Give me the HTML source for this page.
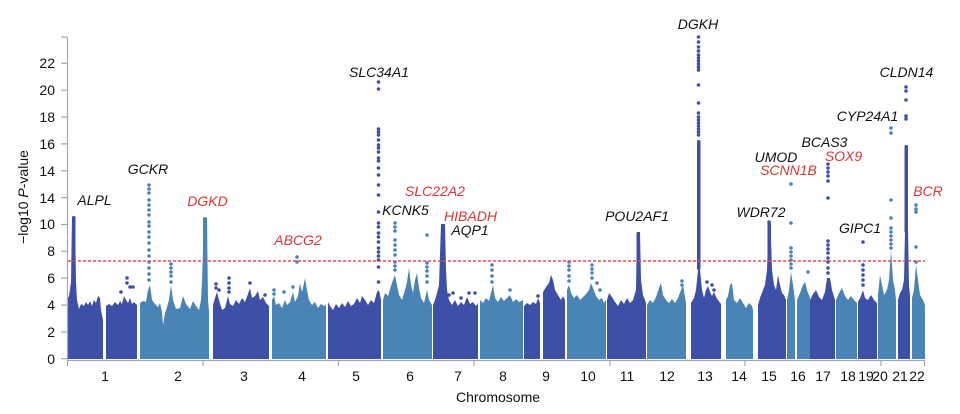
<!DOCTYPE html>
<html><head><meta charset="utf-8"><style>
html,body{margin:0;padding:0;background:#fff;}
svg{display:block;}
text{font-family:"Liberation Sans",Arial,sans-serif;}
.g{font-style:italic;font-size:14px;fill:#111;}
.r{fill:#dd3535;}
.t{font-size:14px;fill:#111;}
</style></head><body>
<svg width="960" height="414" viewBox="0 0 960 414" xmlns="http://www.w3.org/2000/svg">
<rect width="960" height="414" fill="#fff"/>
<g fill="#3d4fa6">
<polygon points="67,359 67,300 69,296 71,282 72,217 75,217 76,282 77,300 79,309 81,304 84,306 86,302 88,305 90,301 92,306 94,300 96,303 98,296 100,298 101,310 103,320 103,359"/>
<polygon points="106,359 106,306 109,304 112,306 115,302 118,305 120,301 122,304 124,296 126,300 128,303 130,298 132,304 134,302 137,305 137,359"/>
<polygon points="213,359 213,305 215,298 217,292 219,300 222,310 225,308 228,296 230,304 233,306 236,300 239,304 242,298 245,302 248,294 250,288 252,298 255,296 258,291 260,300 263,297 266,303 269,306 269,359"/>
<polygon points="328,359 328,302 330,306 333,310 336,304 339,308 342,303 345,307 348,301 351,306 354,304 357,298 360,303 362,296 365,300 368,305 371,300 374,303 377,292 379,290 381,300 381,359"/>
<polygon points="433,359 433,305 435,300 437,293 439,285 441,224 445,224 446,270 447,290 449,300 452,305 455,300 458,306 461,302 464,305 467,297 470,304 473,302 476,306 478,303 478,359"/>
<polygon points="524,359 524,306 527,303 530,305 533,302 536,304 538,298 540,303 540,359"/>
<polygon points="543,359 543,292 546,287 549,283 551,275 553,280 555,290 558,295 561,300 563,296 565,300 565,359"/>
<polygon points="607,359 607,300 609,293 612,297 615,302 618,306 621,300 624,304 627,298 630,303 633,300 636,290 637,232 640,232 641,280 643,295 646,303 646,359"/>
<polygon points="691,359 691,303 694,298 696,290 698,270 700,270 702,290 704,298 706,290 708,286 710,292 712,296 714,292 716,297 718,300 721,304 721,359"/>
<polygon points="758,359 758,305 760,298 763,290 765,285 767,270 768,240 771,240 772,270 774,285 776,290 778,275 780,285 782,293 784,295 786,300 786,359"/>
<polygon points="810,359 810,300 813,294 816,290 819,297 822,300 825,292 827,278 830,278 832,290 835,300 835,359"/>
<polygon points="858,359 858,302 861,296 863,290 865,298 868,300 871,295 874,300 877,303 877,359"/>
<polygon points="898,359 898,300 900,293 902,290 904,280 905,230 908,230 909,285 910,295 910,359"/>
<!-- dense dark columns -->
<rect x="72" y="216" width="3.5" height="60" rx="1.5"/>
<rect x="697" y="140" width="3.5" height="130" rx="1.5"/>
<rect x="767.5" y="222" width="3.5" height="40" rx="1.5"/>
<rect x="904.5" y="145" width="3.5" height="88" rx="1.5"/>
<rect x="636.5" y="232" width="3.5" height="40" rx="1.5"/>
<rect x="441" y="224" width="3.5" height="40" rx="1.5"/>
<!-- dark dots -->
<circle cx="127" cy="278" r="1.8"/><circle cx="127" cy="283" r="1.8"/><circle cx="130" cy="287" r="1.8"/><circle cx="133" cy="287" r="1.8"/><circle cx="121" cy="292" r="1.8"/>
<circle cx="216" cy="288" r="1.8"/><circle cx="216" cy="284" r="1.8"/><circle cx="219" cy="290" r="1.8"/><circle cx="229" cy="278" r="1.8"/><circle cx="229" cy="283" r="1.8"/><circle cx="229" cy="288" r="1.8"/><circle cx="229" cy="292" r="1.8"/><circle cx="250" cy="283" r="1.8"/><circle cx="265" cy="295" r="1.8"/>
<circle cx="378.5" cy="82" r="1.8"/><circle cx="378.5" cy="89" r="1.8"/><circle cx="378.5" cy="129" r="1.8"/><circle cx="378.5" cy="132" r="1.8"/><circle cx="378.5" cy="135" r="1.8"/><circle cx="378.5" cy="140" r="1.8"/><circle cx="378.5" cy="145" r="1.8"/><circle cx="378.5" cy="148" r="1.8"/><circle cx="378.5" cy="152" r="1.8"/><circle cx="378.5" cy="158" r="1.8"/><circle cx="378.5" cy="161" r="1.8"/><circle cx="378.5" cy="168" r="1.8"/><circle cx="378.5" cy="175" r="1.8"/><circle cx="378.5" cy="185" r="1.8"/><circle cx="378.5" cy="195" r="1.8"/><circle cx="378.5" cy="212" r="1.8"/><circle cx="378.5" cy="223" r="1.8"/><circle cx="378.5" cy="227" r="1.8"/><circle cx="378.5" cy="233" r="1.8"/><circle cx="378.5" cy="237" r="1.8"/><circle cx="378.5" cy="242" r="1.8"/><circle cx="378.5" cy="248" r="1.8"/><circle cx="378.5" cy="252" r="1.8"/><circle cx="378.5" cy="256" r="1.8"/><circle cx="378.5" cy="260" r="1.8"/><circle cx="378.5" cy="267" r="1.8"/><circle cx="378.5" cy="282" r="1.8"/>
<circle cx="449" cy="295" r="1.8"/><circle cx="453" cy="293" r="1.8"/><circle cx="461" cy="298" r="1.8"/><circle cx="469" cy="293" r="1.8"/><circle cx="475" cy="293" r="1.8"/>
<circle cx="538" cy="296" r="1.8"/>
<circle cx="698.5" cy="37" r="1.8"/><circle cx="698.5" cy="42" r="1.8"/><circle cx="698.5" cy="47" r="1.8"/><circle cx="698.5" cy="51" r="1.8"/><circle cx="698.5" cy="55" r="1.8"/><circle cx="698.5" cy="58" r="1.8"/><circle cx="698.5" cy="61" r="1.8"/><circle cx="698.5" cy="64" r="1.8"/><circle cx="698.5" cy="67" r="1.8"/><circle cx="698.5" cy="70" r="1.8"/><circle cx="698.5" cy="85" r="1.8"/><circle cx="698.5" cy="103" r="1.8"/><circle cx="698.5" cy="113" r="1.8"/><circle cx="698.5" cy="117" r="1.8"/><circle cx="698.5" cy="120" r="1.8"/><circle cx="698.5" cy="123" r="1.8"/><circle cx="698.5" cy="126" r="1.8"/><circle cx="698.5" cy="129" r="1.8"/><circle cx="698.5" cy="132" r="1.8"/><circle cx="698.5" cy="135" r="1.8"/>
<circle cx="707" cy="282" r="1.8"/><circle cx="712" cy="285" r="1.8"/><circle cx="714" cy="290" r="1.8"/>
<circle cx="769" cy="222" r="1.8"/>
<circle cx="828" cy="164" r="1.8"/><circle cx="828" cy="168" r="1.8"/><circle cx="828" cy="172" r="1.8"/><circle cx="828" cy="176" r="1.8"/><circle cx="828" cy="181" r="1.8"/><circle cx="828" cy="198" r="1.8"/><circle cx="828" cy="241" r="1.8"/><circle cx="828" cy="245" r="1.8"/><circle cx="828" cy="249" r="1.8"/><circle cx="828" cy="253" r="1.8"/><circle cx="828" cy="258" r="1.8"/><circle cx="828" cy="262" r="1.8"/><circle cx="828" cy="268" r="1.8"/><circle cx="828" cy="273" r="1.8"/>
<circle cx="863" cy="242" r="1.8"/><circle cx="863" cy="265" r="1.8"/><circle cx="863" cy="270" r="1.8"/><circle cx="863" cy="275" r="1.8"/><circle cx="863" cy="280" r="1.8"/><circle cx="863" cy="285" r="1.8"/>
<circle cx="906" cy="87" r="1.8"/><circle cx="906" cy="91" r="1.8"/><circle cx="906" cy="100" r="1.8"/><circle cx="906" cy="116" r="1.8"/><circle cx="906" cy="119" r="1.8"/>
</g>
<g fill="#4a84b6">
<polygon points="140,359 140,303 143,301 146,302 148,290 150,285 152,300 155,304 158,307 160,303 162,312 163,325 165,313 167,307 169,300 171,285 173,300 176,309 180,308 183,296 186,304 190,309 193,301 196,306 199,310 201,300 202,282 204,218 207,218 208,300 209,311 209,359"/>
<polygon points="272,359 272,300 274,296 276,305 279,303 282,308 285,300 287,305 290,302 293,292 295,302 298,296 300,283 302,292 304,283 305,278 307,290 309,300 312,305 315,302 318,308 321,304 324,306 326,305 326,359"/>
<polygon points="383,359 383,300 385,293 388,296 391,286 393,280 395,275 397,285 399,295 402,300 405,290 407,282 409,268 411,285 413,293 415,280 417,273 419,288 421,298 424,303 427,290 429,300 432,305 432,359"/>
<polygon points="480,359 480,300 483,303 486,298 489,301 491,293 493,285 495,298 498,302 501,297 504,301 507,298 510,295 513,302 516,299 519,302 523,300 523,359"/>
<polygon points="567,359 567,290 569,285 571,293 574,298 577,295 580,300 583,297 586,294 589,290 591,283 593,288 596,296 599,300 602,298 604,303 606,300 606,359"/>
<polygon points="647,359 647,305 650,300 653,303 656,297 659,288 661,283 663,295 666,300 669,303 672,299 675,303 678,298 681,290 683,285 686,303 686,359"/>
<polygon points="726,359 726,300 728,296 730,285 732,283 734,300 737,303 740,298 743,303 746,308 749,303 752,306 753,310 753,359"/>
<polygon points="787,359 787,300 789,290 791,272 793,285 795,300 795,359"/>
<polygon points="797,359 797,300 800,293 803,285 805,282 807,290 810,298 810,359"/>
<polygon points="836,359 836,300 839,293 842,288 845,296 848,300 851,296 854,300 857,303 857,359"/>
<polygon points="878,359 878,295 880,275 882,285 884,295 887,290 889,280 891,250 893,280 895,290 896,300 896,359"/>
<polygon points="912,359 912,298 914,290 916,265 918,280 920,295 923,300 925,305 925,359"/>
<rect x="203" y="217" width="4" height="70" rx="1.5"/>
<circle cx="149" cy="185" r="1.8"/><circle cx="149" cy="189" r="1.8"/><circle cx="149" cy="193" r="1.8"/><circle cx="149" cy="200" r="1.8"/><circle cx="149" cy="205" r="1.8"/><circle cx="149" cy="210" r="1.8"/><circle cx="149" cy="215" r="1.8"/><circle cx="149" cy="222" r="1.8"/><circle cx="149" cy="226" r="1.8"/><circle cx="149" cy="232" r="1.8"/><circle cx="149" cy="237" r="1.8"/><circle cx="149" cy="243" r="1.8"/><circle cx="149" cy="250" r="1.8"/><circle cx="149" cy="256" r="1.8"/><circle cx="149" cy="262" r="1.8"/><circle cx="149" cy="268" r="1.8"/><circle cx="149" cy="274" r="1.8"/><circle cx="149" cy="280" r="1.8"/>
<circle cx="171" cy="264" r="1.8"/><circle cx="171" cy="268" r="1.8"/><circle cx="171" cy="272" r="1.8"/><circle cx="171" cy="276" r="1.8"/><circle cx="171" cy="282" r="1.8"/>
<circle cx="274" cy="290" r="1.8"/><circle cx="274" cy="294" r="1.8"/><circle cx="297" cy="257" r="1.8"/><circle cx="297" cy="262" r="1.8"/><circle cx="293" cy="287" r="1.8"/><circle cx="284" cy="292" r="1.8"/>
<circle cx="395" cy="223" r="1.8"/><circle cx="395" cy="227" r="1.8"/><circle cx="395" cy="231" r="1.8"/><circle cx="395" cy="240" r="1.8"/><circle cx="395" cy="245" r="1.8"/><circle cx="395" cy="250" r="1.8"/><circle cx="395" cy="255" r="1.8"/><circle cx="395" cy="262" r="1.8"/><circle cx="395" cy="266" r="1.8"/><circle cx="395" cy="270" r="1.8"/>
<circle cx="427" cy="235" r="1.8"/><circle cx="427" cy="263" r="1.8"/><circle cx="427" cy="267" r="1.8"/><circle cx="427" cy="271" r="1.8"/><circle cx="427" cy="276" r="1.8"/><circle cx="427" cy="282" r="1.8"/>
<circle cx="492" cy="265" r="1.8"/><circle cx="492" cy="270" r="1.8"/><circle cx="492" cy="276" r="1.8"/><circle cx="492" cy="282" r="1.8"/><circle cx="510" cy="290" r="1.8"/>
<circle cx="569" cy="262" r="1.8"/><circle cx="569" cy="266" r="1.8"/><circle cx="569" cy="270" r="1.8"/><circle cx="569" cy="276" r="1.8"/><circle cx="569" cy="281" r="1.8"/>
<circle cx="592" cy="265" r="1.8"/><circle cx="592" cy="269" r="1.8"/><circle cx="592" cy="273" r="1.8"/><circle cx="592" cy="278" r="1.8"/><circle cx="597" cy="283" r="1.8"/><circle cx="600" cy="290" r="1.8"/>
<circle cx="682" cy="281" r="1.8"/><circle cx="682" cy="285" r="1.8"/>
<circle cx="791" cy="184" r="1.8"/><circle cx="791" cy="223" r="1.8"/><circle cx="791" cy="248" r="1.8"/><circle cx="791" cy="252" r="1.8"/><circle cx="791" cy="256" r="1.8"/><circle cx="791" cy="260" r="1.8"/><circle cx="791" cy="264" r="1.8"/><circle cx="791" cy="268" r="1.8"/><circle cx="808" cy="272" r="1.8"/>
<circle cx="891" cy="128" r="1.8"/><circle cx="891" cy="133" r="1.8"/><circle cx="891" cy="200" r="1.8"/><circle cx="891" cy="218" r="1.8"/><circle cx="891" cy="228" r="1.8"/><circle cx="891" cy="232" r="1.8"/><circle cx="891" cy="236" r="1.8"/><circle cx="891" cy="240" r="1.8"/><circle cx="891" cy="244" r="1.8"/><circle cx="891" cy="248" r="1.8"/>
<circle cx="916" cy="205" r="1.8"/><circle cx="916" cy="209" r="1.8"/><circle cx="916" cy="212" r="1.8"/><circle cx="916" cy="247" r="1.8"/><circle cx="916" cy="262" r="1.8"/>
</g>
<!-- threshold -->
<line x1="68" y1="261" x2="925" y2="261" stroke="#e5485a" stroke-width="1.4" stroke-dasharray="3,2"/>
<!-- axes -->
<g stroke="#a8a8a8" stroke-width="1.2" fill="none">
<line x1="67.5" y1="37" x2="67.5" y2="361"/>
<line x1="67" y1="360.5" x2="925" y2="360.5"/>
<path d="M61 37H67M61 63.3H67M61 90.2H67M61 117.1H67M61 143.9H67M61 170.8H67M61 197.6H67M61 224.5H67M61 251.3H67M61 278.2H67M61 305.1H67M61 331.9H67M61 358.7H67"/>
<path d="M67.5 360V366M203 360V366M338.5 360V366M474 360V366M610 360V366M745 360V366M881 360V366M924.5 360V366"/>
</g>
<g class="t" text-anchor="end">
<text x="55" y="68">22</text><text x="55" y="95">20</text><text x="55" y="122">18</text><text x="55" y="149">16</text><text x="55" y="176">14</text><text x="55" y="203">14</text><text x="55" y="229">10</text><text x="55" y="256">8</text><text x="55" y="283">6</text><text x="55" y="310">4</text><text x="55" y="337">2</text><text x="55" y="364">0</text>
</g>
<text class="t" transform="translate(28,197) rotate(-90)" text-anchor="middle">−log10 <tspan font-style="italic">P</tspan>-value</text>
<g class="t" text-anchor="middle">
<text x="105" y="381">1</text><text x="178" y="381">2</text><text x="244" y="381">3</text><text x="302" y="381">4</text><text x="356" y="381">5</text><text x="410" y="381">6</text><text x="458" y="381">7</text><text x="503" y="381">8</text><text x="546" y="381">9</text><text x="588" y="381">10</text><text x="627" y="381">11</text><text x="667" y="381">12</text><text x="705" y="381">13</text><text x="739" y="381">14</text><text x="769" y="381">15</text><text x="798" y="381">16</text><text x="823" y="381">17</text><text x="848" y="381">18</text><text x="866" y="381">19</text><text x="880" y="381">20</text><text x="900" y="381">21</text><text x="917" y="381">22</text>
<text x="498" y="402">Chromosome</text>
</g>
<g class="g" text-anchor="middle">
<text x="94.5" y="205">ALPL</text>
<text x="148" y="174">GCKR</text>
<text x="207.5" y="206" class="g r">DGKD</text>
<text x="298" y="245" class="g r">ABCG2</text>
<text x="379" y="77">SLC34A1</text>
<text x="435" y="196" class="g r">SLC22A2</text>
<text x="405.5" y="215">KCNK5</text>
<text x="470.5" y="221" class="g r">HIBADH</text>
<text x="470" y="235">AQP1</text>
<text x="637" y="221">POU2AF1</text>
<text x="698" y="29">DGKH</text>
<text x="761" y="217">WDR72</text>
<text x="776" y="162">UMOD</text>
<text x="788.5" y="175" class="g r">SCNN1B</text>
<text x="824.5" y="147">BCAS3</text>
<text x="843.5" y="161" class="g r">SOX9</text>
<text x="860" y="233">GIPC1</text>
<text x="867.5" y="121">CYP24A1</text>
<text x="906.5" y="77">CLDN14</text>
<text x="928" y="196" class="g r">BCR</text>
</g>
</svg>
</body></html>
